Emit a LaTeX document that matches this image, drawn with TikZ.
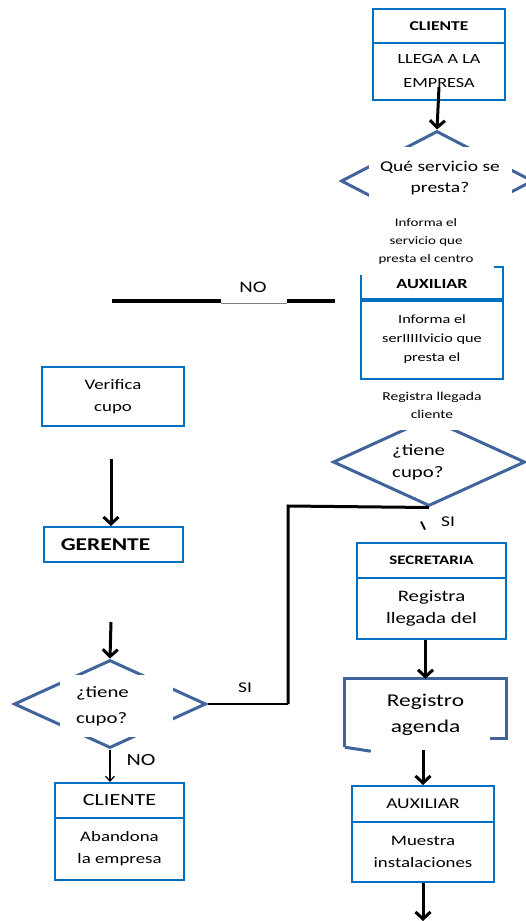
\documentclass[tikz,border=0pt]{standalone}
\usepackage{fontspec}
\setmainfont{Carlito}[FakeStretch=1.3]
\usepackage{xcolor}
\usetikzlibrary{positioning, arrows.meta, shapes.geometric}
\definecolor{boxblue}{RGB}{0,112,192}
\definecolor{decblue}{RGB}{65,101,154}

\begin{document}
\begin{tikzpicture}[
  x=1pt, y=-1pt,
  box/.style={rectangle, draw=boxblue, line width=2pt, align=center, inner sep=2pt},
  dec/.style={diamond, draw=decblue, line width=3pt, inner sep=0pt},
  cover/.style={fill=white, align=center, inner sep=0pt},
  arr/.style={-{Straight Barb[length=7pt, width=15pt]}, line width=3pt},
  lnk/.style={line width=3pt}
]
\useasboundingbox (0,0) rectangle (526,921);

% --- Right column ---

% cliente llega
\node[box, minimum width=132, minimum height=34, font={\fontsize{13.5}{16}\selectfont\bfseries}] (cli1) at (439,26) {CLIENTE};
\node[box, minimum width=132, minimum height=57, font={\fontsize{14}{24}\selectfont}] (lleg) at (439,71.5) {LLEGA A LA\\EMPRESA};
\node[dec, minimum width=192, minimum height=100] (q1d) at (437,181) {};
\draw[arr] ([yshift=14pt]lleg.south) -- (q1d.north);
\node[cover, minimum width=143, minimum height=62, font={\fontsize{15}{21}\selectfont}] (q1) at (440,178) {Qué servicio se\\presta?};

% auxiliar informa
\node[box, minimum width=142, minimum height=34, font={\fontsize{14}{16}\selectfont\bfseries}] (aux1) at (432,284) {AUXILIAR};
\node[cover, minimum width=136, minimum height=68, font={\fontsize{11.5}{18}\selectfont}] (inf) at (426,241) {Informa el\\servicio que\\presta el centro};
\node[box, minimum width=142, minimum height=80, font={\fontsize{12.5}{19}\selectfont}] (inf2) at (432,339) {Informa el\\serIIIIIvicio que\\presta el};

% registra llegada
\node[dec, minimum width=192, minimum height=88] (q2d) at (429,462) {};
\node[cover, minimum width=120, minimum height=50, font={\fontsize{12}{18}\selectfont}] (reg) at (432,405) {Registra llegada\\cliente};
\node[anchor=west, align=left, inner sep=0pt, font={\fontsize{16}{22}\selectfont}] (q2) at (392,462) {¿tiene\\cupo?};
\node[font={\fontsize{15}{16}\selectfont}] (si1) at (448,522) {SI};
\draw[line width=2pt] ([shift={(-8pt,-14pt)}]q2d.south) -- ([shift={(-4pt,-22pt)}]q2d.south);

% secretaria
\node[box, minimum width=149, minimum height=35, font={\fontsize{13}{16}\selectfont\bfseries}] (sec) at (431.5,560.5) {SECRETARIA};
\node[box, minimum width=149, minimum height=61, font={\fontsize{16}{22}\selectfont}] (regl) at (431.5,608.5) {Registra\\llegada del};

% registro agenda
\node[minimum width=161, minimum height=71, align=center, font={\fontsize{18}{26}\selectfont}] (agd) at (425.5,714.5) {Registro\\agenda};
\draw[decblue, line width=3pt] ([yshift=3pt]agd.south west) -- (agd.north west) -- (agd.north east) -- ([yshift=12pt]agd.south east) -- ([shift={(-16pt,12pt)}]agd.south east);
\draw[decblue, line width=3pt] ([yshift=3pt]agd.south west) -- ([shift={(26pt,-1pt)}]agd.south west);
\draw[arr] (regl.south -| agd.north) -- (agd.north);

% auxiliar muestra
\node[box, minimum width=142, minimum height=36, font={\fontsize{15}{16}\selectfont}] (aux2) at (423,804) {AUXILIAR};
\node[box, minimum width=142, minimum height=60, font={\fontsize{14.5}{22}\selectfont}] (mue) at (423,852) {Muestra\\instalaciones};
\draw[arr] (aux2.north |- agd.south) -- (aux2.north);
\coordinate (fin) at (423,921);
\draw[arr] (mue.south) -- (fin);

% --- Left column ---

% NO branch
\coordinate (n1) at (112,301);
\coordinate (n2) at (221,301);
\coordinate (n3) at (287,301);
\coordinate (n4) at (335,301);
\draw[line width=3.5pt] (n1) -- (n2);
\draw[gray, line width=1pt] ([yshift=-2pt]n2) -- ([yshift=-2pt]n3);
\draw[line width=3.5pt] (n3) -- (n4);
\node[font={\fontsize{16}{16}\selectfont}] (no1) at (253,287) {NO};

% gerente
\node[box, minimum width=142, minimum height=59, font={\fontsize{14.5}{22}\selectfont}] (ver) at (113,396.5) {Verifica\\cupo};
\coordinate (v1) at (111,459);
\node[box, minimum width=139, minimum height=35, font={\fontsize{18}{20}\selectfont\bfseries}] (ger) at (113.5,544.5) {GERENTE\hspace{16pt}};
\draw[arr] (v1) -- (v1 |- ger.north);

% tiene cupo (gerente)
\coordinate (g1) at (111,622);
\node[dec, minimum width=192, minimum height=88] (q3d) at (110,704) {};
\draw[arr] (g1) -- (q3d.north);
\node[cover, text width=81, inner xsep=16pt, minimum height=62, align=left, font={\fontsize{16}{26}\selectfont}] (q3) at (116.5,706) {¿tiene\\cupo?};

% SI link
\coordinate (c1) at (288,506);
\draw[lnk] (q2d.south) -- (c1) -- (c1 |- q3d.east);
\draw[line width=2.5pt] (c1 |- q3d.east) -- (q3d.east);
\node[font={\fontsize{15}{16}\selectfont}] (si2) at (245,688) {SI};

% cliente abandona
\node[box, minimum width=129, minimum height=35, font={\fontsize{17}{18}\selectfont}] (cli2) at (119.5,800.5) {CLIENTE};
\node[box, minimum width=129, minimum height=62, font={\fontsize{14.5}{22}\selectfont}] (aba) at (119.5,849) {Abandona\\la empresa};
\draw[-{Straight Barb[length=5pt, width=9pt]}, line width=1.2pt] (q3d.south) -- (q3d.south |- cli2.north);
\node[font={\fontsize{17}{18}\selectfont}] (no2) at (141,760) {NO};

\end{tikzpicture}
\end{document}
